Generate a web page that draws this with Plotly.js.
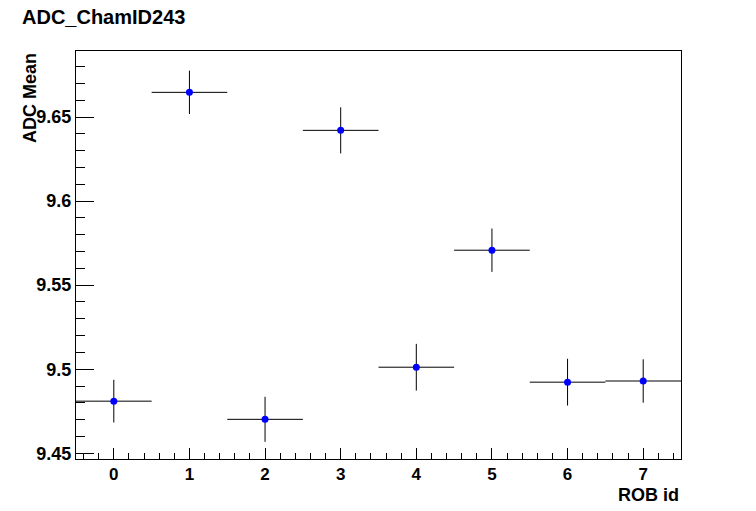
<!DOCTYPE html>
<html>
<head>
<meta charset="utf-8">
<script src="https://cdn.plot.ly/plotly-3.0.1.min.js"></script>
<style>html,body{margin:0;padding:0;background:#fff;}#chart{width:756px;height:511px;}</style>
</head>
<body>
<div id="chart"></div>
<script>
const robId = [0, 1, 2, 3, 4, 5, 6, 7];
const adcMean = [9.4810, 9.6647, 9.4702, 9.6421, 9.5012, 9.5708, 9.4923, 9.4930];
const adcErr = [0.0127, 0.0129, 0.0134, 0.0137, 0.0139, 0.0129, 0.0139, 0.0129];
const binHalfWidth = [0.5, 0.5, 0.5, 0.5, 0.5, 0.5, 0.5, 0.5];
const yTickVals = [9.45, 9.5, 9.55, 9.6, 9.65];
const yTickText = ['9.45', '9.5', '9.55', '9.6', '9.65'];
const xTickVals = [0, 1, 2, 3, 4, 5, 6, 7];

const font = 'Liberation Sans, Arial, sans-serif';

const trace = {
  x: robId, y: adcMean, type: 'scatter', mode: 'markers',
  marker: {color: '#0000ff', size: 7, symbol: 'circle'},
  error_y: {type: 'data', array: adcErr, visible: true, color: '#000', thickness: 1, width: 0},
  error_x: {type: 'data', array: binHalfWidth, visible: true, color: '#000', thickness: 1, width: 0},
  hoverinfo: 'skip'
};

const layout = {
  width: 756, height: 511,
  margin: {l: 76, r: 75, t: 51, b: 52, pad: 0},
  paper_bgcolor: '#fff', plot_bgcolor: '#fff',
  showlegend: false,
  font: {family: font, color: '#000'},
  xaxis: {
    range: [-0.5, 7.5], showgrid: false, zeroline: false,
    showline: true, linecolor: '#000', linewidth: 1, mirror: true,
    ticks: 'inside', ticklen: 11, tickwidth: 1, tickcolor: '#000',
    tickvals: xTickVals, ticktext: xTickVals.map(String),
    tickfont: {family: font, size: 17, color: '#000', weight: 700},
    minor: {dtick: 0.2, tick0: 0, ticks: 'inside', ticklen: 6, tickcolor: '#000', tickwidth: 1, showgrid: false}
  },
  yaxis: {
    range: [9.4466, 9.6893], showgrid: false, zeroline: false,
    showline: true, linecolor: '#000', linewidth: 1, mirror: true,
    ticks: 'inside', ticklen: 18, tickwidth: 1, tickcolor: '#000',
    tickvals: yTickVals, ticktext: yTickText,
    tickfont: {family: font, size: 18, color: '#000', weight: 700},
    minor: {dtick: 0.01, tick0: 9.45, ticks: 'inside', ticklen: 9, tickcolor: '#000', tickwidth: 1, showgrid: false}
  },
  annotations: [
    {text: 'ADC_ChamID243', xref: 'paper', yref: 'paper', x: (20 - 76)/605, y: 1 + (51 - 4)/408, xanchor: 'left', yanchor: 'top',
     showarrow: false, font: {family: font, size: 20, color: '#000', weight: 700}},
    {text: 'ROB id', xref: 'paper', yref: 'paper', x: 1, y: -(487 - 459 - 4)/408, xanchor: 'right', yanchor: 'top',
     showarrow: false, font: {family: font, size: 18, color: '#000', weight: 700}},
    {text: 'ADC Mean', xref: 'paper', yref: 'paper', x: -(76 - 18)/605, y: 1, xanchor: 'left', yanchor: 'top',
     textangle: -90, showarrow: false, font: {family: font, size: 18, color: '#000', weight: 700}}
  ]
};

Plotly.newPlot('chart', [trace], layout, {displayModeBar: false, staticPlot: true});
</script>
</body>
</html>
